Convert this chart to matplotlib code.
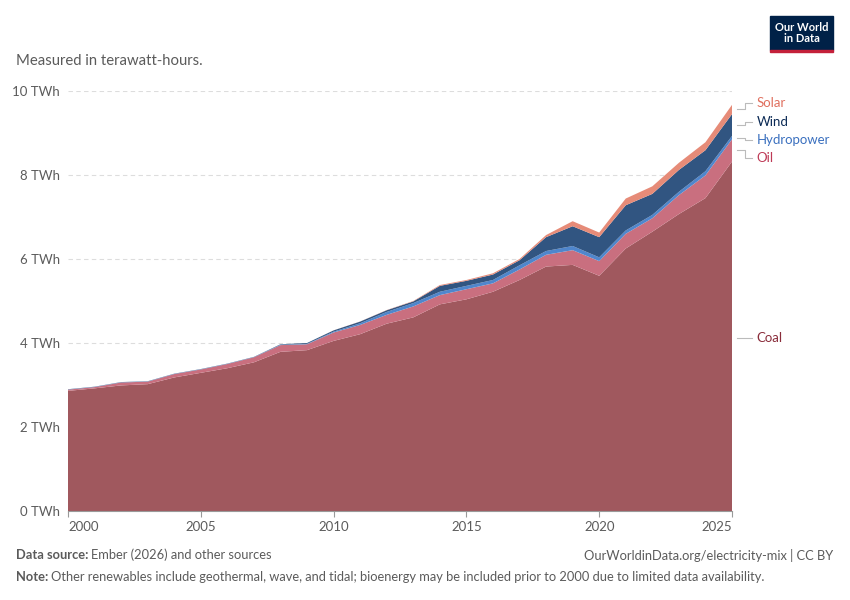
import matplotlib.pyplot as plt
import matplotlib.transforms as mtransforms
from matplotlib.patches import Rectangle

plt.rcParams['font.family'] = ['Lato', 'DejaVu Sans']

years = list(range(2000, 2026))
coal = [2.86, 2.92, 2.99, 3.02, 3.18, 3.29, 3.40, 3.54, 3.79, 3.83, 4.05, 4.21, 4.46,
        4.61, 4.92, 5.04, 5.22, 5.50, 5.82, 5.86, 5.60, 6.25, 6.65, 7.07, 7.45, 8.32]
oil = [0.03, 0.03, 0.07, 0.06, 0.08, 0.08, 0.10, 0.12, 0.16, 0.14, 0.20, 0.22, 0.21,
       0.26, 0.22, 0.24, 0.20, 0.25, 0.28, 0.35, 0.35, 0.35, 0.32, 0.45, 0.54, 0.53]
hydro = [0.005, 0.005, 0.005, 0.005, 0.005, 0.005, 0.005, 0.005, 0.01, 0.01, 0.02, 0.04, 0.07,
         0.08, 0.08, 0.08, 0.08, 0.10, 0.09, 0.10, 0.09, 0.08, 0.08, 0.08, 0.10, 0.08]
wind = [0.005, 0.005, 0.005, 0.005, 0.005, 0.005, 0.005, 0.005, 0.01, 0.02, 0.03, 0.04, 0.04,
        0.04, 0.14, 0.12, 0.13, 0.12, 0.33, 0.47, 0.48, 0.60, 0.50, 0.52, 0.50, 0.52]
solar = [0, 0, 0, 0, 0, 0, 0, 0, 0, 0, 0.002, 0.003, 0.005,
         0.01, 0.02, 0.02, 0.03, 0.03, 0.05, 0.12, 0.11, 0.16, 0.18, 0.17, 0.19, 0.22]

series_names = ["Coal", "Oil", "Hydropower", "Wind", "Solar"]
fill_colors = ["#a0585e", "#c96f7f", "#4f86cc", "#315581", "#e68b78"]
label_colors = ["#8a2d3b", "#be3a56", "#3b70bf", "#0b2a55", "#e0705f"]
# where the end labels sit (data units), spread apart like the original
label_y = [4.12, 8.40, 8.83, 9.26, 9.71]

grey = "#5b5b5b"

fig = plt.figure(figsize=(8.5, 6), dpi=100)
ax = fig.add_axes([68 / 850, 89 / 600, 664 / 850, 420 / 600])

ax.stackplot(years, coal, oil, hydro, wind, solar, colors=fill_colors, linewidth=0)

ax.set_xlim(2000, 2025)
ax.set_ylim(0, 10)

for s in ["top", "right", "left"]:
    ax.spines[s].set_visible(False)
ax.spines["bottom"].set_color("#999999")
ax.spines["bottom"].set_linewidth(0.8)

yticks = [0, 2, 4, 6, 8, 10]
ax.set_yticks(yticks)
ax.set_yticklabels([f"{v} TWh" for v in yticks], color=grey, fontsize=9.5)
ax.tick_params(axis="y", length=0, pad=6)
for v in yticks[1:]:
    ax.axhline(v, color="#dddddd", linewidth=0.8, linestyle=(0, (4, 3)), zorder=0)

xticks = [2000, 2005, 2010, 2015, 2020, 2025]
ax.set_xticks(xticks)
ax.set_xticklabels([str(v) for v in xticks], color=grey, fontsize=9.5)
ax.tick_params(axis="x", length=4, color="#999999", pad=3)
labels = ax.get_xticklabels()
labels[0].set_horizontalalignment("left")
labels[-1].set_horizontalalignment("right")

# end labels with elbow connectors
trans = mtransforms.blended_transform_factory(ax.transAxes, ax.transData)
stack = [coal, oil, hydro, wind, solar]
base = 0
for name, vals, col, ly in zip(series_names, stack, label_colors, label_y):
    mid = base + vals[-1] / 2
    base += vals[-1]
    if name == "Coal":
        ax.plot([1.008, 1.030], [ly, ly], transform=trans, color="#bbbbbb",
                linewidth=0.8, clip_on=False)
    else:
        ax.plot([1.008, 1.020, 1.020, 1.030], [mid, mid, ly, ly], transform=trans,
                color="#bbbbbb", linewidth=0.8, clip_on=False)
    ax.text(1.037, ly, name, transform=trans, color=col, fontsize=9.5,
            va="center", ha="left")

fig.text(16 / 850, 1 - 61 / 600, "Measured in terawatt-hours.", color=grey,
         fontsize=10.7, va="center", ha="left")

# logo
fig.patches.append(Rectangle((770 / 850, 1 - 50 / 600), 63 / 850, 34 / 600,
                             transform=fig.transFigure, color="#002147"))
fig.patches.append(Rectangle((770 / 850, 1 - 52 / 600), 63 / 850, 2.5 / 600,
                             transform=fig.transFigure, color="#c4203a"))
fig.text(801.5 / 850, 1 - 33 / 600, "Our World\nin Data", color="white",
         fontsize=8, fontweight="bold", ha="center", va="center", linespacing=1.0)

# footer
fs = 9.3
t = fig.text(16 / 850, 1 - 555 / 600, "Data source:", color=grey, fontsize=fs,
             fontweight="bold", va="center", ha="left")
fig.canvas.draw()
bb = t.get_window_extent()
fig.text(bb.x1 / 850 + 3 / 850, 1 - 555 / 600, "Ember (2026) and other sources",
         color=grey, fontsize=fs, va="center", ha="left")
fig.text(833 / 850, 1 - 555 / 600, "OurWorldinData.org/electricity-mix | CC BY",
         color=grey, fontsize=fs, va="center", ha="right")
t2 = fig.text(16 / 850, 1 - 577 / 600, "Note:", color=grey, fontsize=fs,
              fontweight="bold", va="center", ha="left")
bb2 = t2.get_window_extent()
fig.text(bb2.x1 / 850 + 3 / 850, 1 - 577 / 600,
         "Other renewables include geothermal, wave, and tidal; bioenergy may be "
         "included prior to 2000 due to limited data availability.",
         color=grey, fontsize=fs, va="center", ha="left")

fig.savefig("out.png", dpi=100)
